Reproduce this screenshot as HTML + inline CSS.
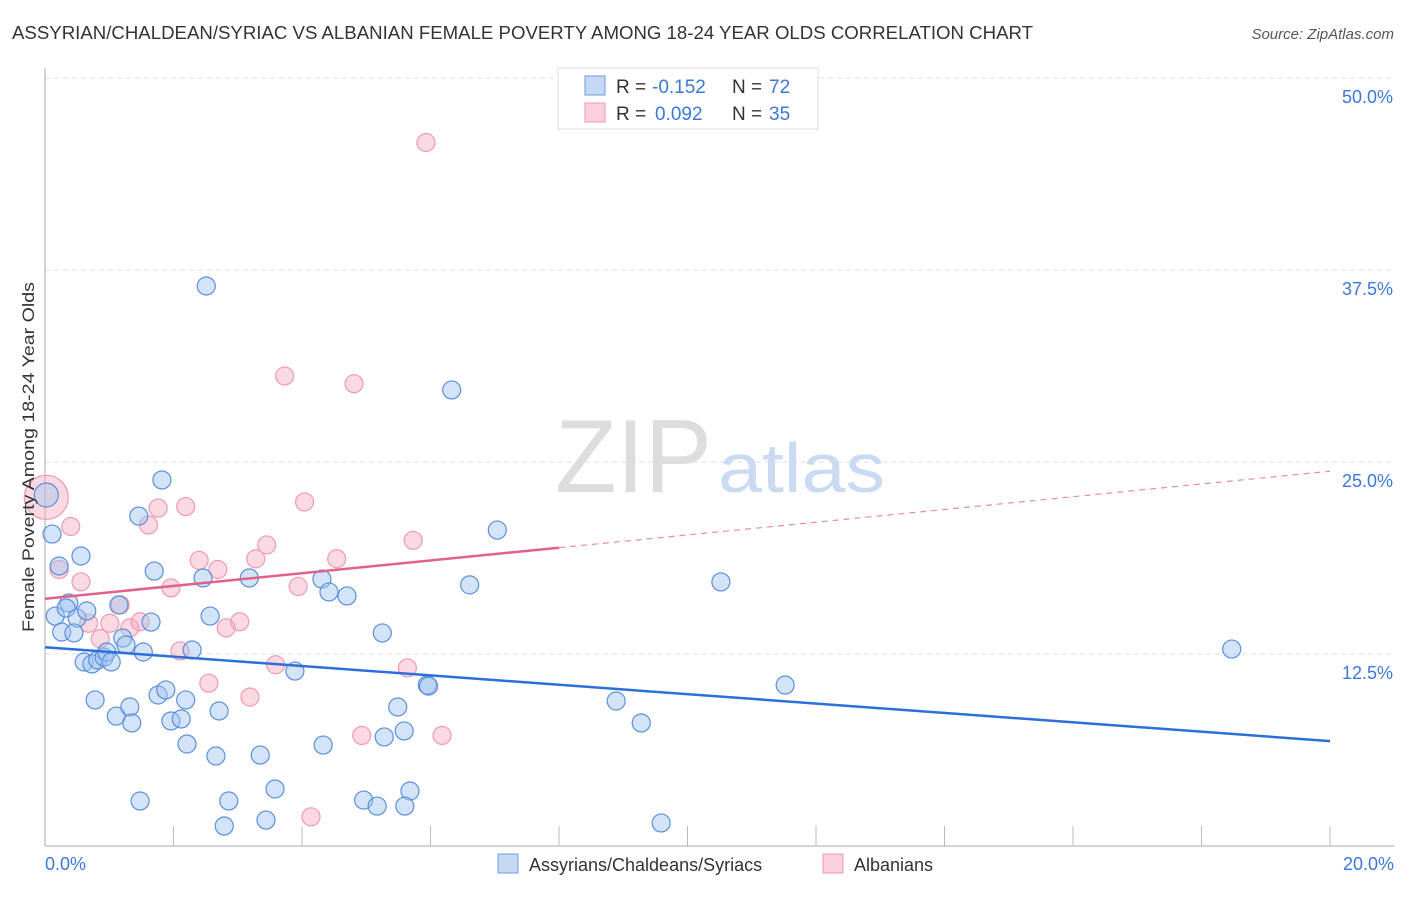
<!DOCTYPE html>
<html><head><meta charset="utf-8"><style>
body{margin:0;background:#fff;font-family:"Liberation Sans",sans-serif}
svg text{font-family:"Liberation Sans",sans-serif}
</style></head><body>
<svg width="1406" height="892">
<text x="12" y="39" font-size="18" fill="#333" textLength="1021" lengthAdjust="spacingAndGlyphs">ASSYRIAN/CHALDEAN/SYRIAC VS ALBANIAN FEMALE POVERTY AMONG 18-24 YEAR OLDS CORRELATION CHART</text>
<text x="1394" y="39" font-size="15" fill="#555" text-anchor="end" font-style="italic">Source: ZipAtlas.com</text>
<g id="grid"></g>
<text x="555" y="492" font-size="104" fill="#ddd" font-family="Liberation Serif" textLength="157" lengthAdjust="spacingAndGlyphs">ZIP</text>
<text x="718" y="492" font-size="70" fill="#c9daf2" textLength="167" lengthAdjust="spacingAndGlyphs">atlas</text>
<line x1="45" y1="68" x2="45" y2="846" stroke="#aaa"/>
<line x1="45" y1="846" x2="1394" y2="846" stroke="#aaa"/>
<g id="ticks"></g>
<g id="pts"></g>
<g id="lines"></g>
<text x="34" y="457" font-size="17" fill="#333" text-anchor="middle" textLength="350" lengthAdjust="spacingAndGlyphs" transform="rotate(-90 34 457)">Female Poverty Among 18-24 Year Olds</text>
<text x="45" y="870" font-size="18" fill="#3b78d8">0.0%</text>
<text x="1394" y="870" font-size="18" fill="#3b78d8" text-anchor="end">20.0%</text>
<g>
<rect x="558" y="68" width="260" height="61" fill="#fff" stroke="#ddd"/>
<rect x="585" y="76" width="20" height="19" fill="#c5d9f5" stroke="#6b9be0"/>
<rect x="585" y="103" width="20" height="19" fill="#fbd0dc" stroke="#ee9ab3"/>
<text x="616" y="93" font-size="19" fill="#333">R =</text><text x="652" y="93" font-size="19" fill="#3b78d8">-0.152</text>
<text x="732" y="93" font-size="19" fill="#333">N =</text><text x="769" y="93" font-size="19" fill="#3b78d8">72</text>
<text x="616" y="120" font-size="19" fill="#333">R =</text><text x="655" y="120" font-size="19" fill="#3b78d8">0.092</text>
<text x="732" y="120" font-size="19" fill="#333">N =</text><text x="769" y="120" font-size="19" fill="#3b78d8">35</text>
</g>
<g>
<rect x="498" y="854" width="20" height="19" fill="#c5d9f5" stroke="#6b9be0"/>
<text x="529" y="871" font-size="18" fill="#333">Assyrians/Chaldeans/Syriacs</text>
<rect x="823" y="854" width="20" height="19" fill="#fbd0dc" stroke="#ee9ab3"/>
<text x="854" y="871" font-size="18" fill="#333">Albanians</text>
</g>
</svg>
<script>
const yTicks=[12.5,25,37.5,50];
const yTickLabels=["12.5%","25.0%","37.5%","50.0%"];
const blueX=[0.02,0.11,0.56,0.22,0.16,0.37,0.33,0.50,0.65,0.26,0.45,1.15,1.65,2.57,1.21,1.26,1.53,0.61,0.73,0.82,0.92,0.96,1.03,2.29,3.89,1.82,1.46,1.70,2.46,3.18,4.31,4.42,4.70,6.61,5.25,0.78,1.76,1.88,2.19,2.71,1.11,1.32,1.35,1.96,2.12,2.21,2.66,3.35,4.33,1.48,2.86,3.58,2.79,3.44,6.33,5.95,5.49,5.59,5.28,4.96,5.17,5.68,5.60,2.51,7.04,8.89,9.28,9.59,10.52,11.52,18.47,5.97];
const blueY=[22.85,20.31,18.88,18.23,14.97,15.82,15.49,14.84,15.30,13.93,13.87,15.69,14.58,14.97,13.54,13.09,12.63,11.98,11.85,12.11,12.30,12.63,11.98,12.76,11.39,23.83,21.48,17.90,17.45,17.45,17.38,16.54,16.28,17.00,13.87,9.51,9.83,10.16,9.51,8.79,8.46,9.05,8.01,8.14,8.27,6.64,5.86,5.92,6.57,2.93,2.93,3.71,1.30,1.69,29.69,10.48,9.05,7.49,7.10,2.99,2.60,3.58,2.60,36.46,20.57,9.44,8.01,1.50,17.19,10.48,12.82,10.41];
const pinkX=[0.02,0.40,0.22,0.56,1.17,0.86,0.68,1.01,1.32,1.48,1.61,1.76,1.96,2.10,2.19,2.40,2.55,2.69,2.82,3.03,3.19,3.28,3.45,3.59,3.73,3.94,4.04,4.14,4.54,4.81,4.93,5.64,5.73,5.93,6.18];
const pinkY=[22.7,20.8,18.0,17.2,15.7,13.5,14.5,14.5,14.2,14.6,20.9,22.0,16.8,12.7,22.1,18.6,10.6,18.0,14.2,14.6,9.7,18.7,19.6,11.8,30.6,16.9,22.4,1.9,18.7,30.1,7.2,11.6,19.9,45.8,7.2];
const blueFit=[12.94,6.83];const pinkFit=[16.1,24.4];
const X=v=>45+v/20*1285, Y=v=>846-v/50*768;
const NS='http://www.w3.org/2000/svg';
function mk(p,t,a){const e=document.createElementNS(NS,t);for(const k in a)e.setAttribute(k,a[k]);document.getElementById(p).appendChild(e);return e;}
yTicks.forEach((t,i)=>{
 const g=mk('grid','line',{x1:45,x2:1394,y1:Y(t),y2:Y(t),stroke:'#ddd','stroke-dasharray':'5,4'});
 
 
 const tx=mk('grid','text',{x:1393,y:Y(t)+25,'font-size':18,fill:'#3b78d8','text-anchor':'end'});
 tx.textContent=yTickLabels[i];
 
 
});
for(let i=1;i<=10;i++){const l=mk('ticks','line',{x1:X(i*2),x2:X(i*2),y1:826,y2:846,stroke:'#bbb'});
 
 }
pinkX.forEach((x,i)=>{const c=mk('pts','circle',{cx:X(x),cy:Y(pinkY[i]),r:i==0?22:9,fill:'rgba(246,170,192,0.45)',stroke:'#ee9ab3','stroke-width':1.2});
 
 });
blueX.forEach((x,i)=>{const c=mk('pts','circle',{cx:X(x),cy:Y(blueY[i]),r:i==0?12:9,fill:'rgba(160,195,240,0.45)',stroke:'#5b8fdc','stroke-width':1.2});
 
 });
const bl=mk('lines','line',{x1:X(0),y1:Y(blueFit[0]),x2:X(20),y2:Y(blueFit[1]),stroke:'#2d6fd8','stroke-width':2.5});


const pm=v=>pinkFit[0]+(pinkFit[1]-pinkFit[0])*v/20;
const pl=mk('lines','line',{x1:X(0),y1:Y(pm(0)),x2:X(8),y2:Y(pm(8)),stroke:'#e0628b','stroke-width':2.5});


const pd=mk('lines','line',{x1:X(8),y1:Y(pm(8)),x2:X(20),y2:Y(pm(20)),stroke:'#e98aa8','stroke-width':1.2,'stroke-dasharray':'6,5'});


</script>
</body></html>
